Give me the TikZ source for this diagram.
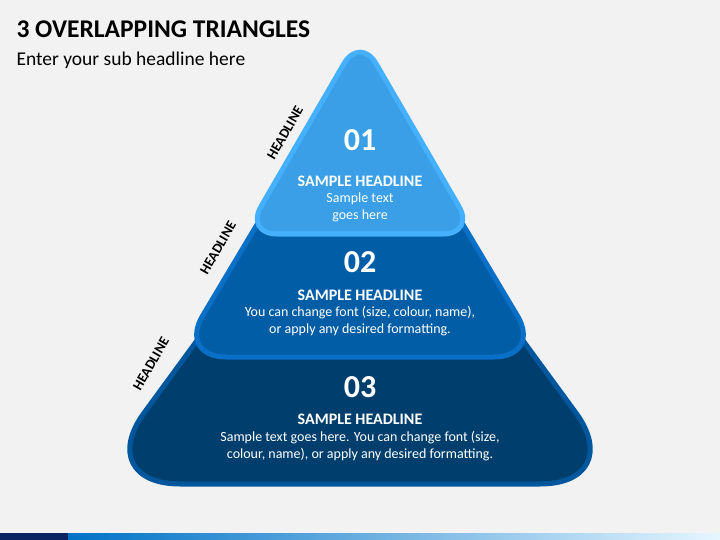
\documentclass[tikz,border=0pt]{standalone}
\usepackage{fontspec}
\setmainfont{Carlito}
\usetikzlibrary{calc}
\definecolor{bgc}{HTML}{F2F2F2}
\definecolor{topfill}{HTML}{3A9FE6}
\definecolor{topline}{HTML}{45B0FF}
\definecolor{midfill}{HTML}{005DA6}
\definecolor{midline}{HTML}{0A6FC6}
\definecolor{botfill}{HTML}{003F6D}
\definecolor{botline}{HTML}{00579E}
\definecolor{barnavy}{HTML}{0A2561}
\definecolor{barblue}{HTML}{0072C6}
\definecolor{barlight}{HTML}{E6F6FF}
\tikzset{
  tri/.style={line width=5pt, line join=round},
  num/.style={text=white, font=\bfseries\fontsize{32}{32}\selectfont},
  head/.style={text=white, font=\bfseries\fontsize{16}{16}\selectfont},
  body/.style={text=white, align=center, font=\fontsize{14}{17}\selectfont},
  side/.style={font=\bfseries\fontsize{14}{14}\selectfont, rotate=60, inner sep=0pt}
}
\begin{document}
\begin{tikzpicture}[x=1pt,y=-1pt]
    % background
    \fill[bgc] (0,0) rectangle (720,540);
    \useasboundingbox (0,0) rectangle (720,540);

    \node[anchor=west,font=\bfseries\fontsize{25.5}{26}\selectfont] (title) at (13,29) {3 OVERLAPPING TRIANGLES};
    \node[anchor=west,font=\fontsize{19.5}{20}\selectfont] (sub) at (13,60) {Enter your sub headline here};

    % triangles
	\coordinate (c3a) at (360,118);
    \coordinate (c3l) at (92,484);
    \coordinate (c3r) at (628,484);
    \draw[tri,botline,fill=botfill,rounded corners=88pt] (c3a) -- (c3r) -- (c3l) -- cycle;

	\coordinate (c2a) at (360,52);
    \coordinate (c2l) at (178,357);
    \coordinate (c2r) at (542,357);
    \draw[tri,midline,fill=midfill,rounded corners=48pt] (c2a) -- (c2r) -- (c2l) -- cycle;

	\coordinate (c1a) at (360,36);
    \coordinate (c1l) at (245,234);
    \coordinate (c1r) at (475,234);
    \draw[tri,topline,fill=topfill,rounded corners=32pt] (c1a) -- (c1r) -- (c1l) -- cycle;

    % texts
    \node[num] (n1) at (360,140) {01};
    \node[head] (h1) at (360,181) {SAMPLE HEADLINE};
    \node[body] (b1) at (360,207) {Sample text\\goes here};

    \node[num] (n2) at (360,262) {02};
    \node[head] (h2) at (360,295) {SAMPLE HEADLINE};
    \node[body] (b2) at (360,321) {You can change font (size, colour, name),\\or apply any desired formatting.};

    \node[num] (n3) at (360,387) {03};
    \node[head] (h3) at (360,419) {SAMPLE HEADLINE};
    \node[body] (b3) at (360,446) {Sample text goes here. You can change font (size,\\colour, name), or apply any desired formatting.};

    \node[side] (s1) at (285,133) {HEADLINE};
    \node[side] (s2) at (218,248) {HEADLINE};
    \node[side] (s3) at (151,364) {HEADLINE};

    % bottom bar
    \fill[barnavy] (0,533) rectangle (68,540);
    \shade[left color=barblue,right color=barlight] (68,533) rectangle (720,540);
\end{tikzpicture}
\end{document}
